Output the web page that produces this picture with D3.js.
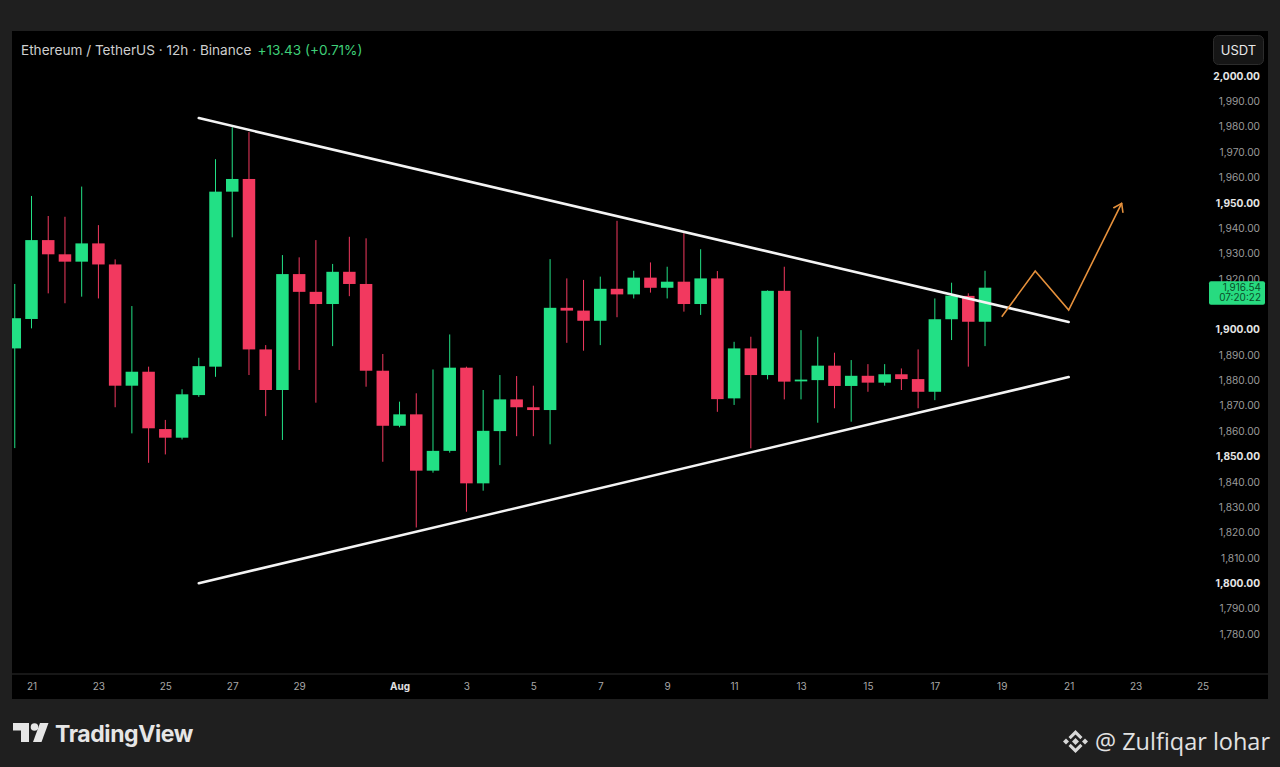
<!DOCTYPE html>
<html>
<head>
<meta charset="utf-8">
<script src="https://cdn.jsdelivr.net/npm/d3@7"></script>
<style>
  html, body { margin: 0; padding: 0; background: #1f1f1f; }
  svg { display: block; font-family: Inter, "Noto Sans", sans-serif; }
</style>
</head>
<body>
<script>
// 12h candles, first one opens Jul 20 2023 12:00 UTC
const firstCandle = Date.UTC(2023, 6, 20, 12);
const opens  = [1892.6, 1904.2, 1935.3, 1929.7, 1926.8, 1934, 1925.7, 1877.9, 1883.4, 1860.8,
                1857.4, 1874.2, 1885.4, 1954.4, 1959.4, 1892.2, 1876.2, 1921.9, 1914.9, 1910.1,
                1922.8, 1918, 1883.8, 1862.1, 1866.6, 1844.4, 1852.2, 1885, 1839.4, 1860,
                1872.5, 1869.4, 1868.3, 1908.6, 1907.5, 1903.5, 1916.1, 1913.9, 1920.5, 1916.5,
                1918.9, 1910.1, 1920.2, 1872.9, 1892.6, 1882.1, 1915.3, 1879.6, 1880.1, 1885.8,
                1877.8, 1881.8, 1879.1, 1882.4, 1880.5, 1875.5, 1904.1, 1913.3, 1903.11];
const highs  = [1918, 1952.7, 1944.8, 1944.5, 1956.4, 1941.2, 1927.7, 1909.3, 1885.4, 1864.4,
                1876.5, 1888.9, 1967.2, 1979.8, 1977.9, 1893.9, 1929.4, 1928.5, 1935.3, 1925.9,
                1936.6, 1936, 1890.4, 1871.6, 1874.9, 1884.3, 1898.1, 1885.4, 1876.2, 1882.1,
                1881.7, 1877.9, 1927.8, 1920.2, 1919.6, 1920.9, 1942.9, 1923.2, 1926.5, 1924.8,
                1938, 1931.7, 1923.1, 1895.2, 1897.2, 1915.5, 1924.8, 1899.8, 1897.2, 1890.9,
                1888, 1886.4, 1886.4, 1884.7, 1892.2, 1912.3, 1918.5, 1914.3, 1923.2];
const lows   = [1853.3, 1900.5, 1914.3, 1910.4, 1913, 1912.3, 1869.4, 1859.1, 1847.5, 1850.8,
                1856.7, 1873.5, 1881.4, 1936.4, 1882.1, 1865.9, 1856.5, 1884.1, 1871.2, 1893.5,
                1913.2, 1877.5, 1847.9, 1861.5, 1822, 1843.6, 1851.5, 1828.2, 1836.5, 1846.6,
                1858, 1858, 1854.8, 1894.8, 1891.7, 1893.9, 1904.9, 1912.3, 1914.6, 1912.3,
                1907.1, 1905.8, 1867.6, 1870.3, 1853.2, 1880.4, 1872.5, 1872.5, 1863.3, 1869,
                1863.7, 1875.5, 1877.9, 1876.2, 1869, 1872.2, 1895.9, 1885.4, 1893.5];
const closes = [1904.5, 1935.3, 1929.7, 1926.8, 1934, 1925.7, 1877.9, 1883.4, 1861.1, 1857.4,
                1874.5, 1885.6, 1954.4, 1959.4, 1892.2, 1876.2, 1921.9, 1914.9, 1910.1, 1922.8,
                1918, 1883.8, 1862.1, 1866.6, 1844.4, 1852.2, 1885, 1839.4, 1860.1, 1872.5,
                1869.4, 1868.3, 1908.6, 1907.5, 1903.5, 1916.1, 1913.9, 1920.5, 1916.5, 1918.9,
                1910.1, 1920.2, 1872.6, 1892.6, 1882.1, 1915.3, 1879.5, 1880.3, 1885.8, 1877.8,
                1881.8, 1879.1, 1882.4, 1880.5, 1875.5, 1904.1, 1913.4, 1903.11, 1916.54];

const yTicks = [1780, 1790, 1800, 1810, 1820, 1830, 1840, 1850, 1860, 1870, 1880, 1890,
                1900, 1910, 1920, 1930, 1940, 1950, 1960, 1970, 1980, 1990, 2000];
const yMajor = [1800, 1850, 1900, 1950, 2000];
const xTickDays = ['2023-07-21', '2023-07-23', '2023-07-25', '2023-07-27', '2023-07-29', '2023-08-01',
                   '2023-08-03', '2023-08-05', '2023-08-07', '2023-08-09', '2023-08-11', '2023-08-13',
                   '2023-08-15', '2023-08-17', '2023-08-19', '2023-08-21', '2023-08-23', '2023-08-25'];

// drawn trend lines and projection
const upperLine = [['2023-07-26T00:00Z', 1983.4], ['2023-08-21T00:00Z', 1903]];
const lowerLine = [['2023-07-26T00:00Z', 1800], ['2023-08-21T00:00Z', 1881.3]];
const projection = [['2023-08-19T00:00Z', 1905.1], ['2023-08-20T00:00Z', 1923.1],
                    ['2023-08-21T00:00Z', 1907.7], ['2023-08-22T14:00Z', 1949.8]];

const lastPrice = '1,916.54', countdown = '07:20:22';

const W = 1280, H = 767;
const pane = {x: 12, y: 31, w: 1256, h: 668};
const axisY = 674;
const up = '#22e085', down = '#f2395f';

const data = opens.map((o, i) => ({
    t: new Date(firstCandle + i * 12 * 3600 * 1000),
    o: o, h: highs[i], l: lows[i], c: closes[i]
}));

const svg = d3.select('body').append('svg')
    .attr('width', W)
    .attr('height', H);

svg.append('rect').attr('width', W).attr('height', H).attr('fill', '#1f1f1f');
svg.append('rect')
    .attr('x', pane.x).attr('y', pane.y)
    .attr('width', pane.w).attr('height', pane.h)
    .attr('fill', '#000');

svg.append('clipPath').attr('id', 'plot')
    .append('rect')
    .attr('x', pane.x).attr('y', pane.y)
    .attr('width', 1195).attr('height', axisY - pane.y);

const xScale = d3.scaleUtc()
    .domain([new Date(Date.UTC(2023, 6, 21)), new Date(Date.UTC(2023, 7, 25))])
    .range([31.5, 1202.5]);

const yScale = d3.scaleLinear()
    .domain([1780, 2000])
    .range([634, 76]);

// y axis labels
const yAxis = d3.axisLeft(yScale)
    .tickValues(yTicks)
    .tickSize(0)
    .tickPadding(0)
    .tickFormat(d3.format(',.2f'));

const yg = svg.append('g')
    .attr('transform', 'translate(1260,0)')
    .call(yAxis);
yg.select('.domain').remove();
yg.selectAll('text')
    .attr('font-family', 'Inter, sans-serif')
    .attr('font-size', 10.2)
    .attr('font-weight', d => yMajor.includes(d) ? 700 : 400)
    .attr('fill', d => yMajor.includes(d) ? '#e6e6e6' : '#9a9a9a');

// x axis
svg.append('line')
    .attr('x1', pane.x).attr('x2', pane.x + pane.w)
    .attr('y1', axisY).attr('y2', axisY)
    .attr('stroke', '#2e2e2e');

const xAxis = d3.axisBottom(xScale)
    .tickValues(xTickDays.map(d => new Date(d + 'T00:00Z')))
    .tickSize(0)
    .tickPadding(9)
    .tickFormat(d => d.getUTCDate() === 1 ? 'Aug' : d.getUTCDate());

const xg = svg.append('g')
    .attr('transform', `translate(0, ${axisY})`)
    .call(xAxis);
xg.select('.domain').remove();
xg.selectAll('text')
    .attr('font-family', 'Inter, sans-serif')
    .attr('font-size', 10)
    .attr('font-weight', d => d.getUTCDate() === 1 ? 700 : 400)
    .attr('fill', d => d.getUTCDate() === 1 ? '#e0e0e0' : '#a8a8a8');

// candles
const plot = svg.append('g').attr('clip-path', 'url(#plot)');
const bodyW = 12.5;

const candle = plot.selectAll('g.candle')
    .data(data)
    .enter()
    .append('g')
    .attr('class', 'candle');

candle.append('line')
    .attr('x1', d => xScale(d.t)).attr('x2', d => xScale(d.t))
    .attr('y1', d => yScale(d.h)).attr('y2', d => yScale(d.l))
    .attr('stroke', d => d.c >= d.o ? up : down)
    .attr('stroke-width', 1);

candle.append('rect')
    .attr('x', d => xScale(d.t) - bodyW / 2)
    .attr('width', bodyW)
    .attr('y', d => yScale(Math.max(d.o, d.c)))
    .attr('height', d => Math.max(1.2, Math.abs(yScale(d.o) - yScale(d.c))))
    .attr('fill', d => d.c >= d.o ? up : down);

// trend lines
const pt = p => [xScale(new Date(p[0])), yScale(p[1])];
const line = d3.line();

[upperLine, lowerLine].forEach(l => {
    plot.append('path')
        .attr('d', line(l.map(pt)))
        .attr('stroke', '#f4f4f4')
        .attr('stroke-width', 2.6)
        .attr('stroke-linecap', 'round')
        .attr('fill', 'none');
});

const proj = projection.map(pt);
plot.append('path')
    .attr('d', line(proj))
    .attr('stroke', '#e6913c')
    .attr('stroke-width', 1.6)
    .attr('stroke-linejoin', 'miter')
    .attr('fill', 'none');

const tip = proj[proj.length - 1], prev = proj[proj.length - 2];
const ang = Math.atan2(tip[1] - prev[1], tip[0] - prev[0]);
[ang + Math.PI - 0.6, ang + Math.PI + 0.6].forEach(a => {
    plot.append('line')
        .attr('x1', tip[0]).attr('y1', tip[1])
        .attr('x2', tip[0] + 9 * Math.cos(a)).attr('y2', tip[1] + 9 * Math.sin(a))
        .attr('stroke', '#e6913c')
        .attr('stroke-width', 1.6)
        .attr('stroke-linecap', 'round');
});

// last price tag: price row sits on the price, countdown below it
const ly = yScale(+lastPrice.replace(',', ''));
const tagTop = ly - 6.5, tagH = 23.5;
yg.selectAll('.tick')
    .filter(d => yScale(d) > tagTop + 4 && yScale(d) < tagTop + tagH + 2)
    .attr('opacity', 0);
svg.append('rect')
    .attr('x', 1209).attr('y', tagTop)
    .attr('width', 56).attr('height', tagH)
    .attr('rx', 2)
    .attr('fill', '#27db80');
svg.append('text')
    .attr('x', 1261).attr('y', ly + 3.6)
    .attr('text-anchor', 'end')
    .attr('font-size', 10)
    .attr('fill', '#0b4d29')
    .text(lastPrice);
svg.append('text')
    .attr('x', 1261).attr('y', ly + 13.8)
    .attr('text-anchor', 'end')
    .attr('font-size', 10)
    .attr('fill', '#0b4d29')
    .text(countdown);

// currency button
svg.append('rect')
    .attr('x', 1213.5).attr('y', 35.5)
    .attr('width', 50).attr('height', 29)
    .attr('rx', 5)
    .attr('fill', '#161616')
    .attr('stroke', '#2c2c2c');
svg.append('text')
    .attr('x', 1238.5).attr('y', 55)
    .attr('text-anchor', 'middle')
    .attr('font-size', 13)
    .attr('fill', '#e8e8e8')
    .text('USDT');

// header
const head = svg.append('text')
    .attr('x', 21).attr('y', 55)
    .attr('font-size', 13.6)
    .attr('fill', '#cfcfcf');
head.append('tspan').text('Ethereum / TetherUS · 12h · Binance');
head.append('tspan').attr('dx', 6).attr('fill', '#3fcf78').text('+13.43 (+0.71%)');

// TradingView footer
const logo = svg.append('g').attr('fill', '#e6e6e6');
logo.append('path').attr('d', 'M13,723 H29 V742 H21 V730.5 H13 Z');
logo.append('circle').attr('cx', 34.5).attr('cy', 727).attr('r', 3.8);
logo.append('path').attr('d', 'M40,723 H48.5 L41.5,742 H33 Z');
svg.append('text')
    .attr('x', 55).attr('y', 742)
    .attr('font-size', 23)
    .attr('font-weight', 700)
    .attr('letter-spacing', -0.4)
    .attr('fill', '#e6e6e6')
    .text('TradingView');

// Binance mark + author
const bx = 1075.5, by = 741.5;
const bn = svg.append('g').attr('fill', '#d8d8d8').attr('transform', `translate(${bx},${by})`);
bn.append('path').attr('d', 'M0,-3.5 L3.5,0 L0,3.5 L-3.5,0 Z');
bn.append('path').attr('d', 'M-9.5,-3 L-6.5,0 L-9.5,3 L-12.5,0 Z');
bn.append('path').attr('d', 'M9.5,-3 L12.5,0 L9.5,3 L6.5,0 Z');
bn.append('path').attr('d', 'M0,-11.5 L7,-4.5 L4.8,-2.3 L0,-7.1 L-4.8,-2.3 L-7,-4.5 Z');
bn.append('path').attr('d', 'M0,11.5 L7,4.5 L4.8,2.3 L0,7.1 L-4.8,2.3 L-7,4.5 Z');
svg.append('text')
    .attr('x', 1095).attr('y', 750)
    .attr('font-family', '"Open Sans", sans-serif')
    .attr('font-size', 23)
    .attr('textLength', 175)
    .attr('lengthAdjust', 'spacingAndGlyphs')
    .attr('fill', '#e2e2e2')
    .text('@ Zulfiqar lohar');
</script>
</body>
</html>
